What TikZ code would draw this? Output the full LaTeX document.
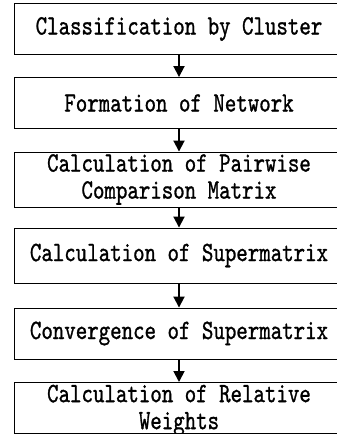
\documentclass[tikz,border=0pt]{standalone}
\usepackage{fontspec}
\usepackage{tikz}
\usetikzlibrary{arrows.meta}
\newfontfamily\stepfont[FakeStretch=0.78, FakeBold=1]{lmmono10-regular.otf}
\tikzstyle{stepbox} = [rectangle, minimum width=330pt, minimum height=51pt,
                       inner sep=1pt, align=center, draw=black, line width=0.9pt,
                       font=\stepfont\fontsize{28}{27}\selectfont]
\tikzstyle{arrow} = [-{Triangle[length=11pt, width=11pt]}, line width=1.8pt]

\begin{document}
\begin{tikzpicture}[x=1pt, y=-1pt]
    \useasboundingbox (0,0) rectangle (337,434);
    \clip (0,0) rectangle (337,434);
    \node[stepbox] (cluster) at (179,29) {Classification by Cluster};
    \node[stepbox] (network) at (179,103) {Formation of Network};
    \node[stepbox, minimum height=55pt] (pairwise) at (179,179.5) {Calculation of Pairwise\\Comparison Matrix};
    \node[stepbox, minimum height=55pt] (supermat) at (179,255.5) {Calculation of Supermatrix};
    \node[stepbox] (converge) at (179,333.5) {Convergence of Supermatrix};
    \node[stepbox, anchor=north, text depth=2pt, inner sep=0.5pt] (weights) at (179,382) {Calculation of Relative\\Weights};

    \draw[arrow] (cluster) -- (network);
    \draw[arrow] (network) -- (pairwise);
    \draw[arrow] (pairwise) -- (supermat);
    \draw[arrow] (supermat) -- (converge);
    \draw[arrow] (converge) -- (weights);
\end{tikzpicture}
\end{document}
